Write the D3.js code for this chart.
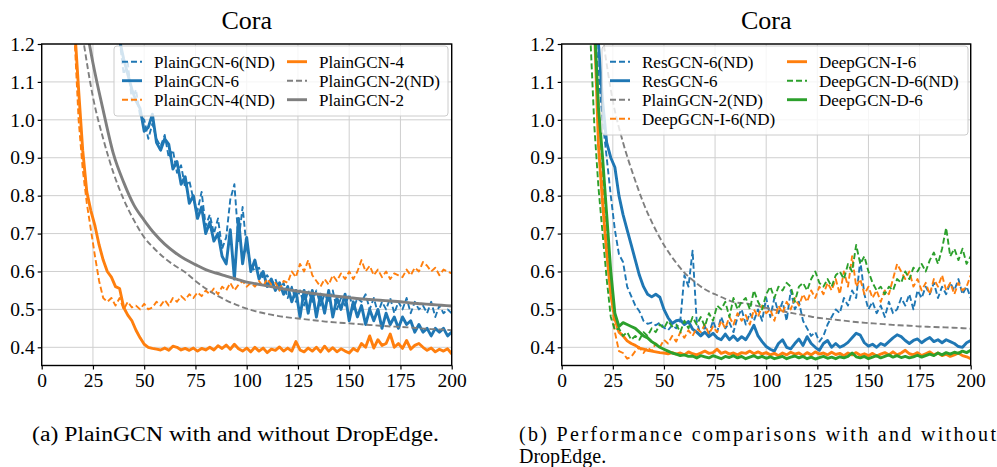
<!DOCTYPE html>
<html><head><meta charset="utf-8">
<script src="https://cdn.jsdelivr.net/npm/d3@7"></script>
<style>
body{margin:0;background:#fff}
svg{display:block}
text{font-family:"Liberation Serif","Times New Roman",Times,serif;fill:#000}
</style>
</head><body>
<svg id="chart" width="997" height="467"></svg>
<script>
// ---------- axis / text data ----------
const xTicks = [0, 25, 50, 75, 100, 125, 150, 175, 200];
const yTicks = [0.4, 0.5, 0.6, 0.7, 0.8, 0.9, 1.0, 1.1, 1.2];
const panelTitles = ["Cora", "Cora"];
const captionA = "(a) PlainGCN with and without DropEdge.";
const captionB1 = "(b) Performance comparisons with and without";
const captionB2 = "DropEdge.";

// ---------- left panel series (epoch start, step, values) ----------
const plain6ND_start = 38;
const plain6ND = [1.21,1.12,1.15,1.05,1.08,1.01,1.0,0.95,0.99,0.95,0.93,0.96,0.9,0.92,0.86,0.88,0.82,0.84,0.79,0.76,0.81,0.72,0.75,0.7,0.74,0.66,0.69,0.79,0.83,0.68,0.77,0.66,0.62,0.6,0.61,0.58,0.59,0.57,0.58,0.55,0.57,0.53,0.56,0.52,0.55,0.51,0.55,0.52,0.55,0.51,0.54,0.52,0.55,0.5,0.53,0.51,0.54,0.5,0.53,0.52,0.54,0.5,0.53,0.49,0.52,0.5,0.53,0.49,0.52,0.5,0.53,0.49,0.52,0.5,0.51,0.49,0.52,0.48,0.51,0.49,0.5,0.49];
const plain6_start = 38;
const plain6 = [1.21,1.16,1.12,1.08,1.05,1.03,0.97,0.98,1.015,0.94,0.92,0.95,0.935,0.87,0.89,0.83,0.85,0.78,0.8,0.74,0.77,0.7,0.73,0.68,0.7,0.64,0.62,0.71,0.58,0.74,0.62,0.69,0.6,0.63,0.58,0.6,0.56,0.58,0.55,0.57,0.54,0.56,0.52,0.55,0.48,0.55,0.49,0.55,0.48,0.54,0.49,0.55,0.48,0.53,0.5,0.54,0.47,0.52,0.48,0.51,0.46,0.5,0.47,0.5,0.45,0.49,0.46,0.48,0.45,0.48,0.46,0.47,0.44,0.46,0.44,0.45,0.43,0.45,0.44,0.45,0.43,0.44];
const plain4ND_start = 16;
const plain4ND = [1.22,1.0,0.87,0.78,0.71,0.64,0.575,0.53,0.52,0.53,0.51,0.53,0.5,0.52,0.505,0.51,0.5,0.515,0.5,0.505,0.52,0.51,0.525,0.51,0.53,0.52,0.535,0.525,0.54,0.53,0.545,0.535,0.55,0.54,0.555,0.54,0.56,0.55,0.57,0.55,0.565,0.575,0.56,0.57,0.56,0.575,0.56,0.58,0.565,0.57,0.55,0.575,0.57,0.6,0.585,0.62,0.6,0.63,0.59,0.575,0.56,0.58,0.565,0.59,0.575,0.595,0.58,0.6,0.58,0.6,0.63,0.6,0.615,0.59,0.605,0.585,0.6,0.58,0.595,0.59,0.585,0.605,0.59,0.61,0.6,0.625,0.615,0.6,0.61,0.59,0.605,0.6,0.595];
const plain4_start = 16;
const plain4 = [1.25,1.08,0.92,0.81,0.76,0.72,0.67,0.63,0.6,0.585,0.56,0.555,0.505,0.485,0.47,0.445,0.425,0.408,0.4,0.397,0.395,0.393,0.398,0.392,0.403,0.4,0.393,0.397,0.392,0.398,0.39,0.397,0.393,0.4,0.393,0.404,0.397,0.406,0.395,0.408,0.396,0.39,0.398,0.388,0.4,0.39,0.398,0.386,0.395,0.392,0.401,0.39,0.398,0.39,0.415,0.393,0.388,0.398,0.39,0.4,0.388,0.403,0.39,0.399,0.388,0.396,0.39,0.385,0.397,0.39,0.41,0.4,0.43,0.398,0.42,0.405,0.41,0.435,0.4,0.41,0.397,0.418,0.395,0.405,0.41,0.4,0.392,0.398,0.388,0.395,0.39,0.396,0.383];
const plain2ND_start = 20;
const plain2ND = [1.22,1.06,0.95,0.86,0.79,0.735,0.69,0.66,0.635,0.615,0.598,0.575,0.555,0.538,0.524,0.512,0.502,0.494,0.488,0.483,0.479,0.476,0.473,0.47,0.467,0.465,0.463,0.461,0.459,0.457,0.455,0.454,0.452,0.45,0.448,0.447,0.445];
const plain2_start = 20;
const plain2 = [1.3,1.15,1.025,0.91,0.835,0.775,0.735,0.7,0.672,0.65,0.632,0.618,0.605,0.596,0.588,0.58,0.572,0.567,0.562,0.557,0.552,0.548,0.544,0.54,0.537,0.534,0.531,0.528,0.526,0.524,0.522,0.52,0.517,0.515,0.513,0.511,0.509];

// ---------- right panel series ----------
const res6ND_start = 16;
const res6ND = [1.25,1.12,1.0,0.9,0.8,0.71,0.645,0.625,0.56,0.535,0.51,0.495,0.47,0.462,0.465,0.458,0.465,0.452,0.445,0.458,0.45,0.47,0.59,0.56,0.655,0.47,0.43,0.455,0.435,0.47,0.44,0.48,0.45,0.465,0.44,0.48,0.5,0.46,0.49,0.47,0.5,0.47,0.53,0.48,0.53,0.49,0.52,0.47,0.55,0.5,0.52,0.47,0.45,0.43,0.44,0.415,0.43,0.46,0.48,0.5,0.49,0.53,0.51,0.55,0.53,0.63,0.54,0.5,0.52,0.49,0.51,0.48,0.52,0.49,0.5,0.53,0.51,0.54,0.5,0.55,0.53,0.56,0.54,0.57,0.53,0.56,0.54,0.57,0.55,0.58,0.54,0.56,0.53];
const res6_start = 16;
const res6 = [1.3,1.2,1.05,0.94,0.9,0.875,0.8,0.75,0.71,0.67,0.63,0.59,0.56,0.54,0.533,0.54,0.532,0.5,0.478,0.463,0.47,0.472,0.46,0.468,0.448,0.44,0.43,0.44,0.428,0.437,0.425,0.42,0.435,0.42,0.43,0.418,0.428,0.42,0.438,0.458,0.43,0.415,0.402,0.395,0.39,0.41,0.42,0.4,0.396,0.41,0.422,0.405,0.428,0.41,0.4,0.392,0.41,0.418,0.4,0.41,0.4,0.405,0.413,0.425,0.437,0.432,0.412,0.403,0.408,0.4,0.41,0.405,0.415,0.425,0.433,0.428,0.418,0.41,0.418,0.422,0.412,0.42,0.426,0.415,0.42,0.412,0.42,0.415,0.41,0.402,0.4,0.412,0.418];
const plain2NDb_start = 20;
const plain2NDb = [1.22,1.05,0.94,0.855,0.78,0.72,0.67,0.63,0.597,0.573,0.553,0.54,0.528,0.518,0.516,0.51,0.504,0.498,0.493,0.488,0.483,0.478,0.475,0.472,0.469,0.466,0.464,0.462,0.46,0.458,0.457,0.455,0.454,0.453,0.452,0.451,0.449];
const deepI6ND_start = 16;
const deepI6ND = [1.22,1.05,0.85,0.68,0.55,0.44,0.39,0.385,0.37,0.375,0.39,0.4,0.385,0.4,0.39,0.41,0.4,0.42,0.41,0.43,0.415,0.44,0.425,0.445,0.43,0.45,0.44,0.46,0.435,0.455,0.44,0.47,0.45,0.48,0.46,0.49,0.47,0.485,0.46,0.5,0.48,0.51,0.49,0.5,0.47,0.51,0.49,0.52,0.5,0.53,0.51,0.54,0.52,0.55,0.53,0.56,0.54,0.57,0.55,0.58,0.54,0.6,0.56,0.64,0.56,0.58,0.54,0.56,0.53,0.55,0.52,0.55,0.54,0.58,0.62,0.6,0.58,0.6,0.56,0.58,0.55,0.57,0.54,0.58,0.56,0.59,0.55,0.57,0.54,0.57,0.55,0.56,0.59];
const deepI6_start = 16;
const deepI6 = [1.25,0.93,0.78,0.65,0.54,0.475,0.44,0.43,0.417,0.41,0.405,0.398,0.395,0.392,0.39,0.388,0.386,0.385,0.383,0.386,0.382,0.385,0.38,0.388,0.383,0.38,0.385,0.39,0.384,0.386,0.395,0.384,0.388,0.382,0.385,0.38,0.386,0.384,0.39,0.383,0.388,0.382,0.386,0.38,0.384,0.378,0.385,0.38,0.387,0.382,0.385,0.378,0.386,0.38,0.388,0.382,0.385,0.38,0.387,0.381,0.384,0.378,0.385,0.38,0.386,0.379,0.383,0.378,0.384,0.377,0.382,0.386,0.38,0.388,0.38,0.385,0.392,0.383,0.38,0.386,0.378,0.383,0.388,0.38,0.385,0.378,0.382,0.376,0.38,0.385,0.378,0.375,0.37];
const deepD6ND_start = 14;
const deepD6ND = [1.22,0.98,0.82,0.7,0.58,0.48,0.445,0.45,0.43,0.44,0.42,0.43,0.42,0.44,0.43,0.45,0.44,0.46,0.45,0.47,0.455,0.46,0.44,0.47,0.45,0.48,0.46,0.48,0.455,0.49,0.47,0.51,0.5,0.52,0.48,0.53,0.5,0.52,0.53,0.5,0.55,0.52,0.5,0.54,0.56,0.53,0.56,0.55,0.57,0.56,0.52,0.56,0.57,0.55,0.58,0.6,0.57,0.56,0.58,0.56,0.59,0.6,0.58,0.62,0.6,0.67,0.62,0.64,0.6,0.57,0.55,0.56,0.54,0.56,0.55,0.58,0.57,0.6,0.58,0.61,0.6,0.62,0.6,0.63,0.65,0.62,0.66,0.715,0.64,0.66,0.63,0.66,0.62,0.64];
const deepD6_start = 16;
const deepD6 = [1.25,1.03,0.9,0.75,0.6,0.49,0.455,0.465,0.46,0.455,0.45,0.44,0.43,0.425,0.415,0.408,0.4,0.395,0.39,0.385,0.382,0.378,0.38,0.376,0.377,0.372,0.378,0.375,0.372,0.378,0.374,0.37,0.376,0.373,0.378,0.372,0.376,0.37,0.374,0.378,0.372,0.376,0.371,0.375,0.37,0.373,0.376,0.37,0.374,0.377,0.372,0.376,0.37,0.374,0.369,0.373,0.376,0.371,0.374,0.37,0.375,0.372,0.376,0.385,0.375,0.372,0.376,0.37,0.374,0.378,0.372,0.376,0.38,0.374,0.378,0.373,0.376,0.372,0.375,0.379,0.374,0.378,0.382,0.378,0.385,0.38,0.386,0.382,0.387,0.384,0.39,0.386,0.392];

// ---------- style ----------
const C = {blue:"#1f77b4", orange:"#ff7f0e", gray:"#7f7f7f", green:"#2ca02c"};
const SOLID_W = 2.9, DASH_W = 1.9, DASH = "6,3";

const panels = [
  {
    left: 41.7, right: 451.7, title: panelTitles[0],
    series: [
      {name:"PlainGCN-6(ND)", start:plain6ND_start, step:2, values:plain6ND, color:C.blue, dash:true},
      {name:"PlainGCN-6", start:plain6_start, step:2, values:plain6, color:C.blue, dash:false},
      {name:"PlainGCN-4(ND)", start:plain4ND_start, step:2, values:plain4ND, color:C.orange, dash:true},
      {name:"PlainGCN-4", start:plain4_start, step:2, values:plain4, color:C.orange, dash:false},
      {name:"PlainGCN-2(ND)", start:plain2ND_start, step:5, values:plain2ND, color:C.gray, dash:true, smooth:true},
      {name:"PlainGCN-2", start:plain2_start, step:5, values:plain2, color:C.gray, dash:false, smooth:true}
    ],
    legend: {x:114, y:46, w:334, h:70, rows:3, col:[122, 287], rowY:[61.7, 80.7, 99.7]}
  },
  {
    left: 561.7, right: 970.7, title: panelTitles[1],
    series: [
      {name:"ResGCN-6(ND)", start:res6ND_start, step:2, values:res6ND, color:C.blue, dash:true},
      {name:"ResGCN-6", start:res6_start, step:2, values:res6, color:C.blue, dash:false},
      {name:"PlainGCN-2(ND)", start:plain2NDb_start, step:5, values:plain2NDb, color:C.gray, dash:true, smooth:true},
      {name:"DeepGCN-I-6(ND)", start:deepI6ND_start, step:2, values:deepI6ND, color:C.orange, dash:true},
      {name:"DeepGCN-I-6", start:deepI6_start, step:2, values:deepI6, color:C.orange, dash:false},
      {name:"DeepGCN-D-6(ND)", start:deepD6ND_start, step:2, values:deepD6ND, color:C.green, dash:true},
      {name:"DeepGCN-D-6", start:deepD6_start, step:2, values:deepD6, color:C.green, dash:false}
    ],
    legend: {x:602, y:46, w:366, h:89, rows:4, col:[610, 787], rowY:[61.7, 80.7, 99.7, 118.7]}
  }
];

const plotTop = 44, plotBottom = 365.5;
const svg = d3.select("#chart");

panels.forEach((p, pi) => {
  const x = d3.scaleLinear().domain([0, 200]).range([p.left, p.right]);
  const y = d3.scaleLinear().domain([0.352, 1.2]).range([plotBottom, plotTop]);
  const g = svg.append("g");

  // grid
  g.append("g").selectAll("line").data(xTicks).join("line")
    .attr("x1", d => x(d)).attr("x2", d => x(d)).attr("y1", plotTop).attr("y2", plotBottom)
    .attr("stroke", "#cfcfcf").attr("stroke-width", 1);
  g.append("g").selectAll("line").data(yTicks).join("line")
    .attr("x1", p.left).attr("x2", p.right).attr("y1", d => y(d)).attr("y2", d => y(d))
    .attr("stroke", "#cfcfcf").attr("stroke-width", 1);

  // clip
  const cid = "clip" + pi;
  svg.append("clipPath").attr("id", cid).append("rect")
    .attr("x", p.left).attr("y", plotTop).attr("width", p.right - p.left).attr("height", plotBottom - plotTop);

  const lg = g.append("g").attr("clip-path", `url(#${cid})`);
  p.series.forEach(s => {
    const pts = s.values.map((v, i) => [s.start + s.step * i, v]);
    const line = d3.line().x(d => x(d[0])).y(d => y(d[1]))
      .curve(s.smooth ? d3.curveMonotoneX : d3.curveLinear);
    lg.append("path").datum(pts).attr("d", line)
      .attr("fill", "none").attr("stroke", s.color)
      .attr("stroke-width", s.dash ? DASH_W : SOLID_W)
      .attr("stroke-dasharray", s.dash ? DASH : null)
      .attr("stroke-linejoin", "round").attr("stroke-linecap", s.dash ? "butt" : "round");
  });

  // axes
  const xAxis = d3.axisBottom(x).tickValues(xTicks).tickSize(4).tickPadding(4).tickFormat(d3.format("d"));
  const yAxis = d3.axisLeft(y).tickValues(yTicks).tickSize(4).tickPadding(3).tickFormat(d3.format(".1f"));
  const gx = g.append("g").attr("transform", `translate(0,${plotBottom})`).call(xAxis);
  const gy = g.append("g").attr("transform", `translate(${p.left},0)`).call(yAxis);
  [gx, gy].forEach(a => {
    a.attr("font-family", null);
    a.select(".domain").remove();
    a.selectAll(".tick line").attr("stroke", "#000").attr("stroke-width", 1.2);
    a.selectAll(".tick text").style("font-family", '"Liberation Serif","Times New Roman",serif').style("font-size", "19.5px").attr("fill", "#000");
  });

  // frame
  g.append("rect").attr("x", p.left).attr("y", plotTop).attr("width", p.right - p.left).attr("height", plotBottom - plotTop)
    .attr("fill", "none").attr("stroke", "#000").attr("stroke-width", 1.4);

  // title
  g.append("text").attr("x", (p.left + p.right) / 2).attr("y", 29).attr("text-anchor", "middle")
    .style("font-size", "26px").text(p.title);

  // legend
  const L = p.legend;
  const leg = g.append("g");
  leg.append("rect").attr("x", L.x).attr("y", L.y).attr("width", L.w).attr("height", L.h)
    .attr("rx", 3).attr("fill", "#fff").attr("fill-opacity", 0.8).attr("stroke", "#cccccc").attr("stroke-width", 1);
  p.series.forEach((s, i) => {
    const c = Math.floor(i / L.rows), r = i % L.rows;
    const hx = L.col[c], hy = L.rowY[r];
    leg.append("line").attr("x1", hx).attr("x2", hx + 20).attr("y1", hy).attr("y2", hy)
      .attr("stroke", s.color).attr("stroke-width", s.dash ? DASH_W : SOLID_W)
      .attr("stroke-dasharray", s.dash ? DASH : null);
    leg.append("text").attr("x", hx + 32).attr("y", hy + 6).style("font-size", "17px").text(s.name);
  });
});

// captions
svg.append("text").attr("x", 32).attr("y", 441).style("font-size", "20px")
  .attr("textLength", 407).attr("lengthAdjust", "spacingAndGlyphs").text(captionA);
svg.append("text").attr("x", 519).attr("y", 440.5).style("font-size", "20px")
  .attr("textLength", 477).attr("lengthAdjust", "spacing").text(captionB1);
svg.append("text").attr("x", 519).attr("y", 462.6).style("font-size", "20px").text(captionB2);
</script>
</body></html>
